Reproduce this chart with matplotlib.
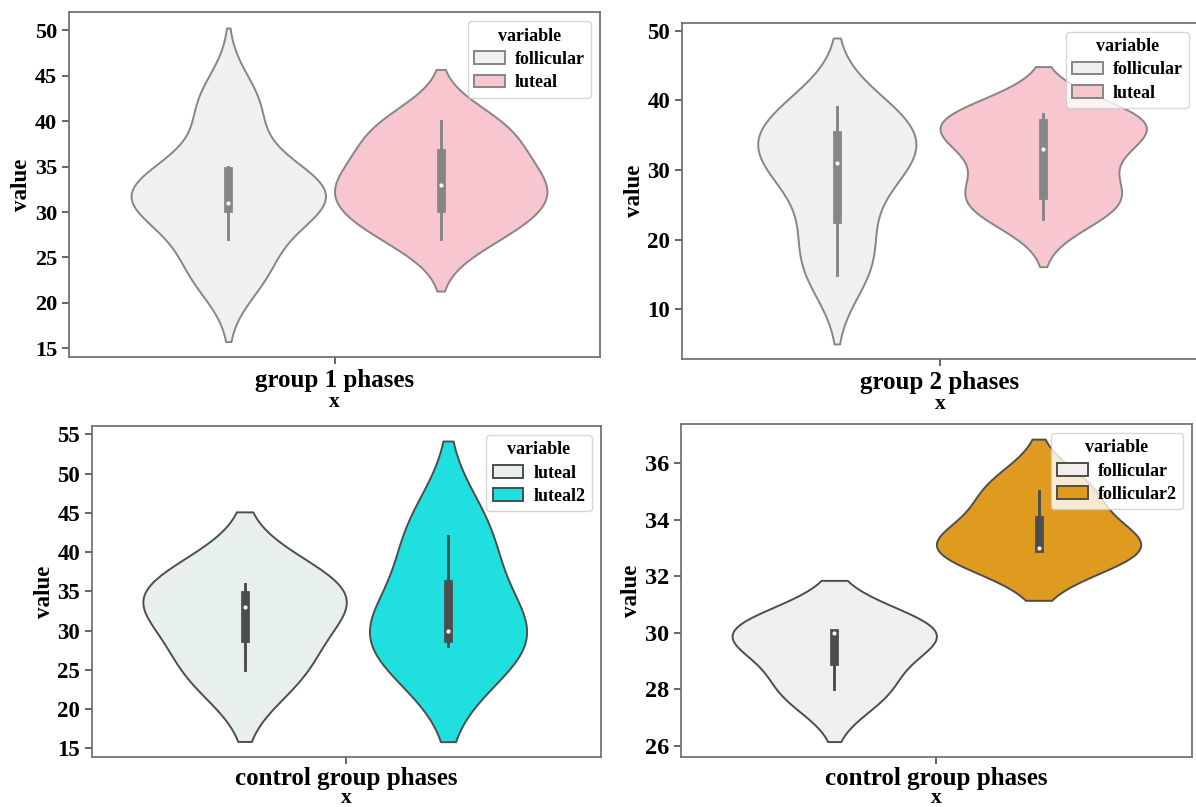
import matplotlib
matplotlib.use("Agg")
import matplotlib.pyplot as plt
import seaborn as sns
import pandas as pd

# ---- data ----
g1_follicular = [22.5, 23.5, 24, 27, 30.5, 30.5, 31, 31, 31, 32, 33, 33.5, 34.5, 35, 40.6, 41.2, 43.5]
g1_luteal = [27, 29, 30.5, 32, 33, 34.5, 36.5, 39, 40]
g2_follicular = [15, 15.5, 20, 23, 29, 30, 31, 33, 34, 35, 37, 38.5, 39]
g2_luteal = [23, 24.5, 26, 26.5, 29, 32, 34, 35.5, 36.5, 37.5, 38, 38]
ctrl_luteal = [25, 33, 36]
ctrl_luteal2 = [28, 30, 42]
ctrl_follicular = [28, 30, 30]
ctrl_follicular2 = [33, 33, 35]

cat_g1 = "group 1 phases"
cat_g2 = "group 2 phases"
cat_ctrl = "control group phases"

ticks_tl = [15, 20, 25, 30, 35, 40, 45, 50]
ticks_tr = [10, 20, 30, 40, 50]
ticks_bl = [15, 20, 25, 30, 35, 40, 45, 50, 55]
ticks_br = [26, 28, 30, 32, 34, 36]

pal_tl = ["#f1eff0", "#f7c6ce"]
pal_tr = ["#f1eff0", "#f7c6ce"]
pal_bl = ["#e8f0ef", "#20dfdf"]
pal_br = ["#f0efee", "#df9b20"]


def long_df(cat, series):
    rows = []
    for name, vals in series:
        for v in vals:
            rows.append({"x": cat, "variable": name, "value": v})
    return pd.DataFrame(rows)


plt.rcParams["font.family"] = ["Liberation Serif", "DejaVu Serif"]
plt.rcParams["font.weight"] = "bold"
plt.rcParams["axes.labelweight"] = "bold"
plt.rcParams["axes.edgecolor"] = "#6e6e6e"
plt.rcParams["axes.linewidth"] = 1.25
plt.rcParams["xtick.color"] = "#4a4a4a"
plt.rcParams["ytick.color"] = "#4a4a4a"
plt.rcParams["xtick.labelcolor"] = "black"
plt.rcParams["ytick.labelcolor"] = "black"

W, H = 1196, 807
fig = plt.figure(figsize=(W / 100, H / 100), dpi=100)


def px_axes(left, top, right, bottom):
    return fig.add_axes([left / W, (H - bottom) / H, (right - left) / W, (bottom - top) / H])


panels = [
    (px_axes(69, 12.3, 600, 357.3), long_df(cat_g1, [("follicular", g1_follicular), ("luteal", g1_luteal)]),
     pal_tl, ticks_tl, 16, 0, 3.5),
    (px_axes(682, 22.7, 1198, 359.3), long_df(cat_g2, [("follicular", g2_follicular), ("luteal", g2_luteal)]),
     pal_tr, ticks_tr, 16.5, 0, 3.5),
    (px_axes(92, 426, 600.6, 756.7), long_df(cat_ctrl, [("luteal", ctrl_luteal), ("luteal2", ctrl_luteal2)]),
     pal_bl, ticks_bl, 16.5, -1.5, 2.5),
    (px_axes(681, 424, 1191.8, 756.7), long_df(cat_ctrl, [("follicular", ctrl_follicular), ("follicular2", ctrl_follicular2)]),
     pal_br, ticks_br, 17.5, -1.5, 2.5),
]

for ax, df, pal, yt, ytsize, xlpad, xtpad in panels:
    sns.violinplot(data=df, x="x", y="value", hue="variable", palette=pal,
                   saturation=1, linewidth=1.4, common_norm=True, ax=ax,
                   inner_kws={"marker": "o", "markersize": 2.2, "markeredgewidth": 0.8})
    ax.set_yticks(yt)
    ax.tick_params(axis="y", labelsize=ytsize, length=5, width=1.2)
    ax.tick_params(axis="x", labelsize=18, length=5, width=1.2, pad=xtpad)
    ax.set_xlabel("x", fontsize=15.5, fontweight="bold", labelpad=xlpad)
    ax.set_ylabel("value", fontsize=16.5, fontweight="bold", labelpad=2)
    for lab in ax.get_xticklabels() + ax.get_yticklabels():
        lab.set_fontweight("bold")
    h, l = ax.get_legend_handles_labels()
    ax.legend(h, l, title="variable", loc="upper right",
              prop={"size": 13, "weight": "bold"},
              title_fontproperties={"size": 13, "weight": "bold"},
              handlelength=1.7, handletextpad=0.55, borderpad=0.35,
              labelspacing=0.35, borderaxespad=0.5)

fig.savefig("out.png", dpi=100)
